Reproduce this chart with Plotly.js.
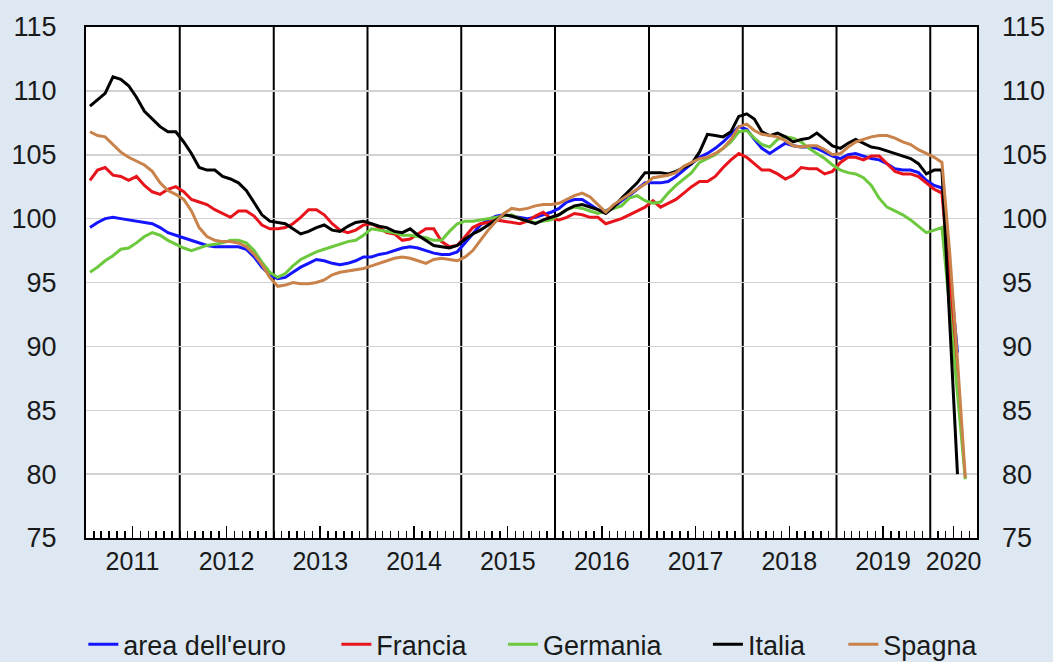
<!DOCTYPE html>
<html>
<head>
<meta charset="utf-8">
<script src="https://cdn.plot.ly/plotly-3.0.1.min.js"></script>
<style>
  html, body { margin: 0; padding: 0; background: #dde8f2; }
  #chart { width: 1053px; height: 662px; }
</style>
</head>
<body>
<div id="chart"></div>
<script>
// Monthly indices, Jan 2011 - May 2020 (one row per year)
const areaEuro = [
  99.3, 99.7, 100.0, 100.1, 100.0, 99.9, 99.8, 99.7, 99.6, 99.3, 98.9, 98.7,
  98.5, 98.3, 98.1, 97.9, 97.8, 97.8, 97.8, 97.8, 97.6, 97.0, 96.2, 95.6,
  95.3, 95.4, 95.8, 96.2, 96.5, 96.8, 96.7, 96.5, 96.4, 96.5, 96.7, 97.0,
  97.0, 97.2, 97.3, 97.5, 97.7, 97.8, 97.7, 97.5, 97.3, 97.2, 97.2, 97.4,
  98.1, 98.8, 99.5, 99.9, 100.2, 100.3, 100.2, 100.1, 100.0, 100.1, 100.3, 100.5,
  100.8, 101.3, 101.5, 101.5, 101.1, 100.7, 100.6, 100.9, 101.4, 101.8, 102.3, 102.8,
  102.8, 102.8, 102.9, 103.3, 103.8, 104.3, 104.8, 105.1, 105.5, 106.0, 106.6, 107.2,
  107.0, 106.2, 105.5, 105.1, 105.5, 105.9, 105.7, 105.6, 105.6, 105.5, 105.2, 104.9,
  104.7, 105.0, 105.1, 104.9, 104.7, 104.6, 104.3, 103.9, 103.8, 103.8, 103.6, 103.0,
  102.6, 102.4, 96.0, 89.5, null
];
const francia = [
  103.0, 103.8, 104.0, 103.4, 103.3, 103.0, 103.3, 102.6, 102.1, 101.9, 102.3, 102.5,
  102.1, 101.5, 101.3, 101.1, 100.7, 100.4, 100.1, 100.6, 100.6, 100.2, 99.5, 99.2,
  99.2, 99.3, 99.6, 100.1, 100.7, 100.7, 100.3, 99.6, 99.1, 98.9, 99.1, 99.5,
  99.6, 99.3, 98.9, 98.8, 98.3, 98.4, 98.8, 99.2, 99.2, 98.2, 97.8, 97.9,
  98.6, 99.3, 99.6, 99.7, 99.9, 99.8, 99.7, 99.6, 99.8, 100.2, 100.5, 100.0,
  99.9, 100.1, 100.4, 100.3, 100.1, 100.1, 99.6, 99.8, 100.0, 100.3, 100.6, 100.9,
  101.4, 100.9, 101.2, 101.5, 102.0, 102.5, 102.9, 102.9, 103.3, 104.0, 104.6, 105.1,
  104.8, 104.3, 103.8, 103.8, 103.5, 103.1, 103.4, 104.0, 103.9, 103.9, 103.5, 103.7,
  104.4, 104.8, 104.8, 104.6, 104.9, 104.9, 104.3, 103.7, 103.5, 103.5, 103.3, 102.8,
  102.3, 102.0, 95.0, 88.0, null
];
const germania = [
  95.8, 96.2, 96.7, 97.1, 97.6, 97.7, 98.1, 98.6, 98.9, 98.7, 98.3, 98.0,
  97.7, 97.5, 97.7, 97.9, 98.0, 98.1, 98.3, 98.3, 98.1, 97.5, 96.6, 95.8,
  95.4, 95.7, 96.3, 96.8, 97.1, 97.4, 97.6, 97.8, 98.0, 98.2, 98.3, 98.7,
  99.2, 99.1, 99.0, 98.9, 98.7, 98.7, 98.6, 98.5, 98.3, 98.3, 99.0, 99.6,
  99.8, 99.8, 99.9, 100.0, 100.1, 100.2, 100.3, 100.0, 99.8, 99.7, 99.8, 99.9,
  100.3, 100.7, 100.9, 100.8, 100.6, 100.4, 100.6, 100.8, 101.0, 101.6, 101.8, 101.4,
  101.2, 101.3, 102.0, 102.6, 103.1, 103.6, 104.4, 104.7, 105.0, 105.5, 106.0, 106.8,
  106.9, 106.3, 105.8, 105.6, 106.2, 106.4, 106.3, 106.0, 105.5, 105.1, 104.7, 104.2,
  103.8, 103.6, 103.5, 103.2, 102.6, 101.6, 100.9, 100.6, 100.3, 99.9, 99.4, 98.9,
  99.1, 99.3, 93.0, 86.3, 79.6
];
const italia = [
  108.8, 109.3, 109.8, 111.1, 110.9, 110.4, 109.5, 108.4, 107.8, 107.2, 106.8, 106.8,
  106.0, 105.1, 104.0, 103.8, 103.8, 103.3, 103.1, 102.8, 102.2, 101.3, 100.3, 99.8,
  99.7, 99.6, 99.2, 98.8, 99.0, 99.3, 99.5, 99.1, 99.0, 99.4, 99.7, 99.8,
  99.6, 99.4, 99.3, 99.0, 98.9, 99.2, 98.7, 98.3, 97.9, 97.8, 97.7, 97.9,
  98.4, 98.8, 99.1, 99.5, 99.9, 100.3, 100.2, 100.0, 99.8, 99.6, 99.9, 100.1,
  100.3, 100.7, 101.0, 101.1, 100.9, 100.7, 100.4, 100.9, 101.6, 102.2, 102.8, 103.6,
  103.6, 103.6, 103.5, 103.7, 104.0, 104.3, 105.2, 106.6, 106.5, 106.4, 106.8, 108.0,
  108.2, 107.8, 106.8, 106.5, 106.7, 106.4, 106.0, 106.2, 106.3, 106.7, 106.2, 105.7,
  105.5, 105.9, 106.2, 105.9, 105.6, 105.5, 105.3, 105.1, 104.9, 104.7, 104.3, 103.5,
  103.8, 103.8, 92.0, 80.0, null
];
const spagna = [
  106.8, 106.5, 106.4, 105.8, 105.2, 104.8, 104.5, 104.2, 103.7, 102.8, 102.2, 101.9,
  101.5, 100.6, 99.3, 98.6, 98.3, 98.2, 98.2, 98.1, 97.8, 97.2, 96.4, 95.4,
  94.7, 94.8, 95.0, 94.9, 94.9, 95.0, 95.2, 95.6, 95.8, 95.9, 96.0, 96.1,
  96.3, 96.5, 96.7, 96.9, 97.0, 96.9, 96.7, 96.5, 96.8, 96.9, 96.8, 96.7,
  97.0, 97.5, 98.3, 99.1, 99.8, 100.4, 100.8, 100.7, 100.8, 101.0, 101.1, 101.1,
  101.2, 101.5, 101.8, 102.0, 101.7, 101.1, 100.5, 101.1, 101.5, 101.9, 102.3, 102.7,
  103.2, 103.3, 103.4, 103.6, 104.1, 104.4, 104.7, 104.8, 105.1, 105.5, 106.2, 107.2,
  107.4, 106.9, 106.6, 106.5, 106.4, 106.1, 105.7, 105.6, 105.7, 105.7, 105.4, 105.0,
  105.1, 105.6, 106.0, 106.2, 106.4, 106.5, 106.5, 106.3, 106.0, 105.8, 105.4, 105.1,
  104.8, 104.4, 97.4, 88.9, 79.7
];

const seriesNames = ["area dell'euro", 'Francia', 'Germania', 'Italia', 'Spagna'];
const seriesColors = ['#1414ff', '#e8141c', '#6cc83c', '#000000', '#c8824a'];
const yearLabels = ['2011', '2012', '2013', '2014', '2015', '2016', '2017', '2018', '2019', '2020'];
const yearLabelPos = ['2011-07-01', '2012-07-01', '2013-07-01', '2014-07-01', '2015-07-01',
  '2016-07-01', '2017-07-01', '2018-07-01', '2019-07-01', '2020-04-01'];
const yearStarts = ['2012-01-01', '2013-01-01', '2014-01-01', '2015-01-01', '2016-01-01',
  '2017-01-01', '2018-01-01', '2019-01-01', '2020-01-01'];

// month periods 'YYYY-MM' starting Jan 2011
const months = areaEuro.map((_, i) => {
  const y = 2011 + Math.floor(i / 12);
  const m = (i % 12) + 1;
  return y + '-' + (m < 10 ? '0' + m : m);
});

const FONT = 'Liberation Sans, Arial, sans-serif';
const legendX = [-0.003, 0.281, 0.468, 0.698, 0.850];
const legendIds = ['legend', 'legend2', 'legend3', 'legend4', 'legend5'];

const traces = [areaEuro, francia, germania, italia, spagna].map((vals, k) => ({
  x: months, y: vals, name: seriesNames[k],
  type: 'scatter', mode: 'lines',
  xperiod: 'M1', xperiodalignment: 'middle',
  line: { color: seriesColors[k], width: 3 },
  legend: legendIds[k],
}));
traces.push({ x: [], y: [], yaxis: 'y2', showlegend: false, hoverinfo: 'skip' });

const layout = {
  width: 1053, height: 662,
  paper_bgcolor: '#dde8f2', plot_bgcolor: '#ffffff',
  font: { family: FONT, color: '#1a1a1a', size: 26 },
  margin: { l: 86, r: 76, t: 27, b: 124, autoexpand: false },
  showlegend: true,
  xaxis: {
    type: 'date', range: ['2011-01-01', '2020-07-01'],
    tickmode: 'array', tickvals: yearLabelPos, ticktext: yearLabels,
    ticks: 'inside', ticklen: 12, tickwidth: 1.5, tickcolor: '#000',
    tickfont: { size: 25 },
    minor: { tickmode: 'linear', tick0: '2011-01-01', dtick: 'M1', ticks: 'inside',
      ticklen: 7, tickwidth: 1.5, tickcolor: '#000', showgrid: false },
    showgrid: false, zeroline: false,
    showline: true, linecolor: '#000', linewidth: 2, mirror: true,
  },
  yaxis: {
    range: [75, 115], tick0: 75, dtick: 5,
    showgrid: true, gridcolor: '#d2d2d2', gridwidth: 1.5,
    zeroline: false, showline: true, linecolor: '#000', linewidth: 2, mirror: true,
    ticks: '', ticklabelstandoff: 22, tickfont: { size: 27 },
  },
  yaxis2: {
    overlaying: 'y', side: 'right', range: [75, 115], tick0: 75, dtick: 5,
    showgrid: false, zeroline: false, showline: false,
    ticks: '', ticklabelstandoff: 24, tickfont: { size: 27 },
  },
  shapes: yearStarts.map((d) => ({
    type: 'line', xref: 'x', yref: 'paper', x0: d, x1: d, y0: 0, y1: 1,
    line: { color: '#000', width: 2 }, layer: 'below',
  })),
};
legendIds.forEach((id, k) => {
  layout[id] = {
    orientation: 'h', x: legendX[k], xanchor: 'left', y: -0.209, yanchor: 'middle',
    bgcolor: 'rgba(0,0,0,0)', font: { size: 27, family: FONT }, itemwidth: 30,
  };
});

Plotly.newPlot('chart', traces, layout, { displayModeBar: false, staticPlot: true });
</script>
</body>
</html>
